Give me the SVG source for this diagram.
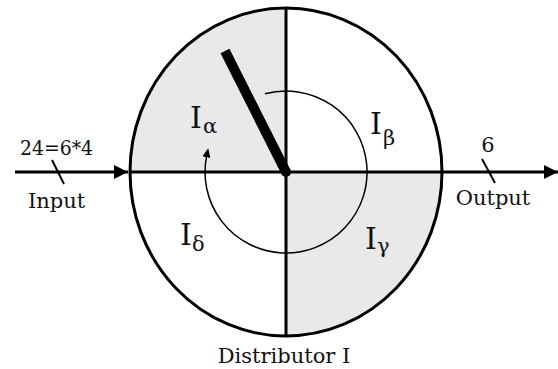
<svg xmlns="http://www.w3.org/2000/svg" width="558" height="369" viewBox="0 0 558 369">
<defs>
<style>
text{font-family:"DejaVu Serif","Liberation Serif",serif;fill:#111}
.lbl{font-size:21px;text-anchor:middle}
.big{font-size:30px}
.sub{font-size:21px}
.ln{stroke:#000;stroke-width:3;fill:none}
</style>
<marker id="ah" markerWidth="14" markerHeight="14" refX="14" refY="7" orient="auto" markerUnits="userSpaceOnUse"><path d="M0,0 L14,7 L0,14 Z" fill="#000"/></marker>
<marker id="sh" markerWidth="9" markerHeight="8" refX="2" refY="4" orient="auto" markerUnits="userSpaceOnUse"><path d="M0,0 L9,4 L0,8 Z" fill="#000"/></marker>
</defs>
<g id="distributor">
<ellipse cx="286" cy="172" rx="156" ry="164" fill="#fff"/>
<path d="M286 172 L130 172 A156 164 0 0 1 286 8 Z" fill="#e9e9e9"/>
<path d="M286 172 L442 172 A156 164 0 0 1 286 336 Z" fill="#e9e9e9"/>
<ellipse cx="286" cy="172" rx="156" ry="164" class="ln"/>
<line x1="286" y1="8" x2="286" y2="336" class="ln"/>
<line x1="130" y1="172" x2="442" y2="172" class="ln"/>
<path d="M265 93.8 A81 81 0 1 1 206.8 155.2" fill="none" stroke="#000" stroke-width="1.5" marker-end="url(#sh)"/>
<line x1="225" y1="51" x2="286" y2="172" stroke="#000" stroke-width="10"/>
<circle cx="286" cy="172" r="5" fill="#000"/>
<text x="284" y="363" class="lbl">Distributor I</text>
</g>
<g id="q-alpha"><text x="190" y="128" class="big">I</text><text x="203" y="133" class="sub">α</text></g>
<g id="q-beta"><text x="370" y="134" class="big">I</text><text x="383" y="145" class="sub">β</text></g>
<g id="q-delta"><text x="180" y="245" class="big">I</text><text x="192" y="251" class="sub">δ</text></g>
<g id="q-gamma"><text x="365" y="249" class="big">I</text><text x="377" y="253" class="sub">γ</text></g>
<g id="input">
<text x="56.5" y="155" class="lbl" textLength="73" lengthAdjust="spacingAndGlyphs">24=6*4</text>
<text x="56.5" y="208" class="lbl">Input</text>
</g>
<g id="output">
<text x="488" y="152" class="lbl">6</text>
<text x="493" y="205" class="lbl">Output</text>
</g>
<g id="connectors">
<line x1="15" y1="172" x2="128" y2="172" class="ln" marker-end="url(#ah)"/>
<line x1="52" y1="160" x2="64" y2="184" stroke="#000" stroke-width="2"/>
<line x1="442" y1="172" x2="558" y2="172" class="ln" marker-end="url(#ah)"/>
<line x1="482" y1="159" x2="495" y2="183" stroke="#000" stroke-width="2"/>
</g>
</svg>
